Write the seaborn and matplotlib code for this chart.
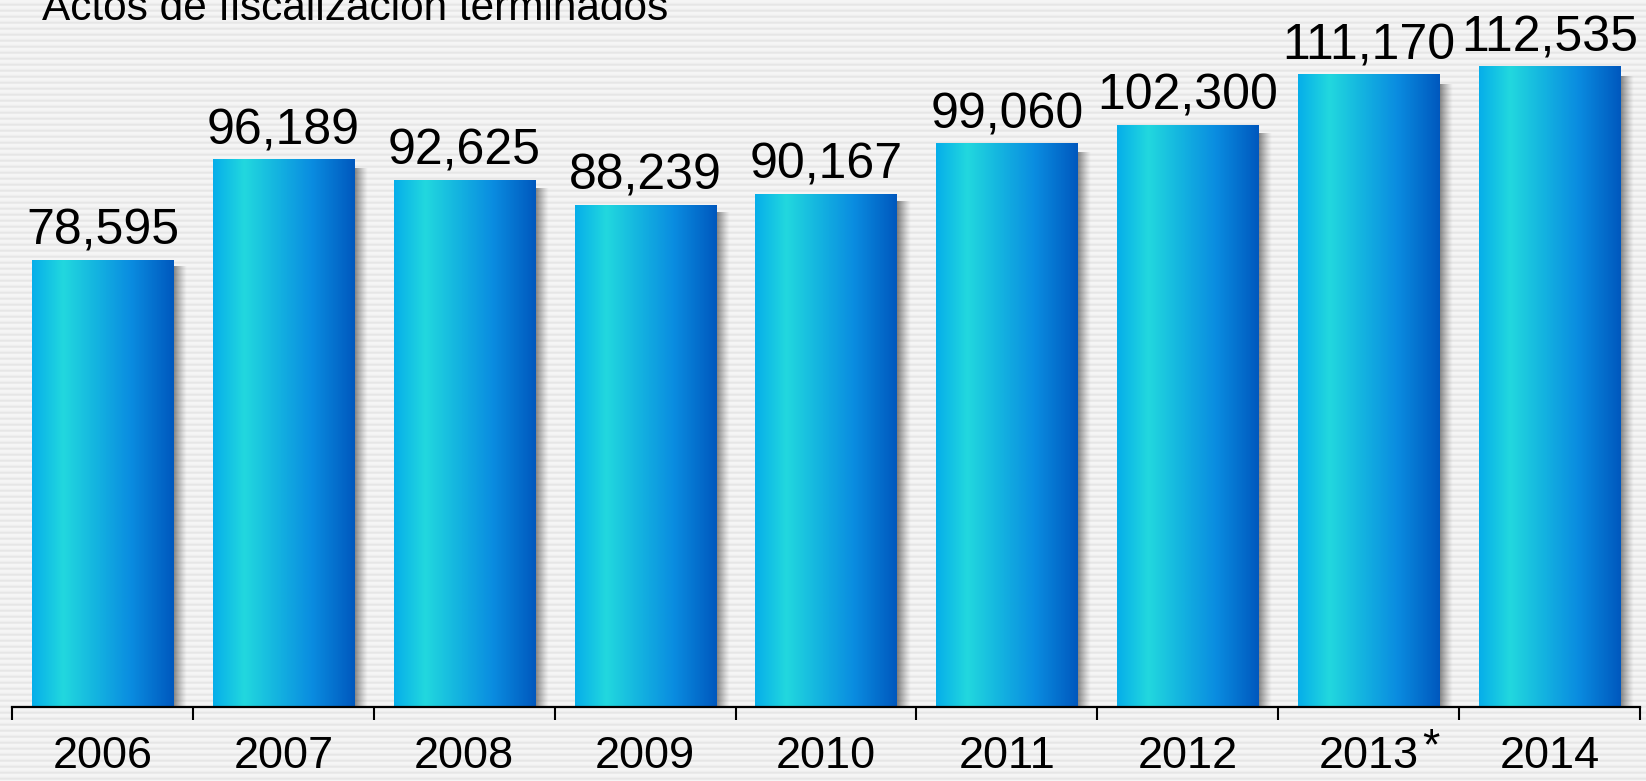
import numpy as np
import matplotlib
matplotlib.use('Agg')
import matplotlib.pyplot as plt
import seaborn as sns
from matplotlib.colors import LinearSegmentedColormap

# data
years = ['2006', '2007', '2008', '2009', '2010', '2011', '2012', '2013', '2014']
values = [78595, 96189, 92625, 88239, 90167, 99060, 102300, 111170, 112535]
title = 'Actos de fiscalización terminados'
starred_year = '2013'

sns.set_style('white')
plt.rcParams['font.family'] = ['Liberation Sans', 'DejaVu Sans']
plt.rcParams['text.color'] = 'black'
plt.rcParams['xtick.color'] = 'black'

W, H = 1646, 781
fig = plt.figure(figsize=(W / 100, H / 100), dpi=100)

# striped grey background
bg = fig.add_axes([0, 0, 1, 1], zorder=0)
pattern = np.array([0.96, 0.96, 0.955, 0.93, 0.9, 0.915])
stripes = np.tile(pattern, H // len(pattern) + 1)[:H]
bg.imshow(stripes[:, None], cmap='gray', vmin=0, vmax=1, aspect='auto',
          extent=[0, 1, 0, 1], interpolation='nearest')
bg.axis('off')

ax = fig.add_axes([12 / W, 74 / H, 1628 / W, 707 / H], zorder=1)
ax.patch.set_alpha(0)

sns.barplot(x=years, y=values, ax=ax, width=0.78, color='#0a9ae0',
            saturation=1, linewidth=0)

# gradient fill + soft shadow on each bar
bar_cmap = LinearSegmentedColormap.from_list(
    'bar', [(0, '#06aeea'), (0.22, '#22d8de'), (0.45, '#14b4e0'),
            (0.7, '#0a8ce0'), (1, '#0058be')])
grad = np.linspace(0, 1, 256)[None, :]
shadow = np.zeros((1, 64, 4))
shadow[..., :3] = 0.3
shadow[..., 3] = np.linspace(0.75, 0, 64) ** 1.2
for p in list(ax.patches):
    x0, y0, w, h = p.get_x(), p.get_y(), p.get_width(), p.get_height()
    ax.imshow(grad, cmap=bar_cmap, aspect='auto', extent=[x0, x0 + w, y0, y0 + h],
              zorder=p.get_zorder() + 0.1, interpolation='bilinear')
    ax.imshow(shadow, aspect='auto', extent=[x0 + w, x0 + w + 0.075, y0, y0 + h * 0.985],
              zorder=p.get_zorder() - 0.1, interpolation='bilinear')

ax.bar_label(ax.containers[0], labels=[f'{v:,}' for v in values],
             padding=4, fontsize=36, color='black', zorder=5)

ax.set_xlim(-0.5, len(years) - 0.5)
ax.set_ylim(0, 124316)
ax.set_yticks([])
ax.set_xticks(range(len(years)))
ax.set_xticklabels(years, fontsize=32.5, color='black')
ax.set_xticks(np.arange(-0.5, len(years), 1), minor=True)
ax.tick_params(axis='x', which='major', length=0, pad=21)
ax.tick_params(axis='x', which='minor', length=9.4, width=1.5, direction='out',
               color='black', bottom=True)
ax.set_xlabel('')
ax.set_ylabel('')
for s in ['top', 'right', 'left']:
    ax.spines[s].set_visible(False)
ax.spines['bottom'].set_linewidth(1.6)
ax.spines['bottom'].set_color('black')
ax.spines['bottom'].set_zorder(6)

# asterisk next to 2013
ax.annotate('*', xy=(years.index(starred_year), 0), xycoords=('data', 'axes fraction'),
            xytext=(45, -38), textcoords='offset points', ha='center',
            va='baseline', fontsize=32, color='black', annotation_clip=False)

fig.text(42 / W, 1 - 20 / H, title, ha='left', va='baseline', fontsize=30.5,
         color='black')

fig.savefig('out.png', dpi=100)
